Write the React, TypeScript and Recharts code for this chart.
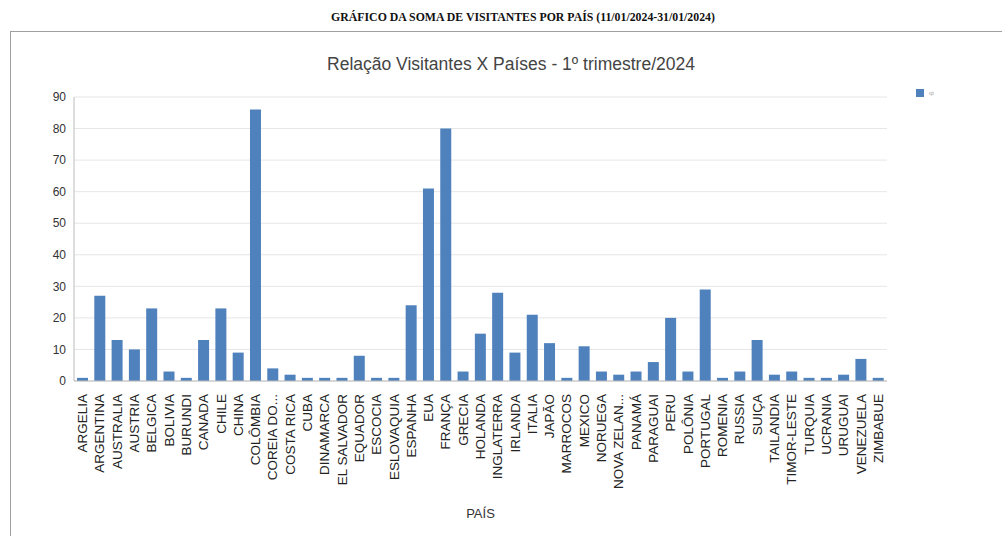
import { BarChart, Bar, XAxis, YAxis, CartesianGrid, Legend } from 'recharts'

const PAISES = [
  'ARGELIA', 'ARGENTINA', 'AUSTRALIA', 'AUSTRIA', 'BELGICA', 'BOLIVIA', 'BURUNDI',
  'CANADA', 'CHILE', 'CHINA', 'COLÔMBIA', 'COREIA DO...', 'COSTA RICA', 'CUBA',
  'DINAMARCA', 'EL SALVADOR', 'EQUADOR', 'ESCOCIA', 'ESLOVAQUIA', 'ESPANHA', 'EUA',
  'FRANÇA', 'GRECIA', 'HOLANDA', 'INGLATERRA', 'IRLANDA', 'ITALIA', 'JAPÃO',
  'MARROCOS', 'MEXICO', 'NORUEGA', 'NOVA ZELAN...', 'PANAMÁ', 'PARAGUAI', 'PERU',
  'POLÔNIA', 'PORTUGAL', 'ROMENIA', 'RUSSIA', 'SUIÇA', 'TAILANDIA', 'TIMOR-LESTE',
  'TURQUIA', 'UCRANIA', 'URUGUAI', 'VENEZUELA', 'ZIMBABUE',
]

const VISITANTES = [
  1, 27, 13, 10, 23, 3, 1,
  13, 23, 9, 86, 4, 2, 1,
  1, 1, 8, 1, 1, 24, 61,
  80, 3, 15, 28, 9, 21, 12,
  1, 11, 3, 2, 3, 6, 20,
  3, 29, 1, 3, 13, 2, 3,
  1, 1, 2, 7, 1,
]

const Y_TICKS = [0, 10, 20, 30, 40, 50, 60, 70, 80, 90]

const data = PAISES.map((name, i) => ({ name, qt: VISITANTES[i] }))

const RotatedTick = (props: any) => {
  const { x, y, payload } = props
  return (
    <text
      x={x}
      y={y}
      transform={`rotate(-90, ${x}, ${y})`}
      textAnchor='end'
      dy={4.5}
      dx={-5}
      fontSize={13.5}
      fill='#222'
      fontFamily='Liberation Sans, Arial, sans-serif'
    >
      {payload.value}
    </text>
  )
}

const LegendBox = () => (
  <div style={{ display: 'flex', alignItems: 'center', gap: 5 }}>
    <span style={{ width: 8, height: 8, background: '#4f81bd', display: 'inline-block' }} />
    <span style={{ fontSize: 6, color: '#aaa', fontFamily: 'Arial, sans-serif' }}>qt</span>
  </div>
)

export default function App() {
  return (
    <div
      style={{
        position: 'absolute',
        left: 0,
        top: 0,
        width: 1002,
        height: 536,
        background: '#fff',
        overflow: 'hidden',
        fontFamily: 'Liberation Sans, Arial, sans-serif',
      }}
    >
      <div
        style={{
          position: 'absolute',
          top: 10,
          left: 22,
          width: 1002,
          textAlign: 'center',
          fontFamily: 'Liberation Serif, serif',
          fontWeight: 'bold',
          fontSize: 11.8,
          color: '#111',
        }}
      >
        GRÁFICO DA SOMA DE VISITANTES POR PAÍS (11/01/2024-31/01/2024)
      </div>
      <div
        style={{
          position: 'absolute',
          left: 10,
          top: 31,
          width: 1000,
          height: 520,
          border: '1px solid #a0a0a0',
        }}
      >
        <div
          style={{
            position: 'absolute',
            top: 22,
            left: 0,
            width: 1000,
            textAlign: 'center',
            fontSize: 17.5,
            color: '#444',
          }}
        >
          Relação Visitantes X Países - 1º trimestre/2024
        </div>
        <BarChart
          width={990}
          height={505}
          data={data}
          margin={{ top: 65, right: 74, bottom: 0, left: 0 }}
          barSize={11}
        >
          <CartesianGrid vertical={false} stroke='#e6e6e6' />
          <XAxis
            dataKey='name'
            interval={0}
            height={156}
            tick={<RotatedTick />}
            tickLine={false}
            axisLine={{ stroke: '#bbb' }}
            label={{
              value: 'PAÍS',
              position: 'insideBottom',
              offset: 19,
              fontSize: 13,
              fill: '#333',
            }}
          />
          <YAxis
            width={63}
            domain={[0, 90]}
            ticks={Y_TICKS}
            tickLine={false}
            axisLine={{ stroke: '#bbb' }}
            tick={{ fontSize: 12, fill: '#333' }}
          />
          <Legend
            layout='vertical'
            verticalAlign='top'
            align='right'
            content={<LegendBox />}
            wrapperStyle={{ top: 57, right: 45, width: 40 }}
          />
          <Bar dataKey='qt' fill='#4f81bd' isAnimationActive={false} />
        </BarChart>
      </div>
    </div>
  )
}
